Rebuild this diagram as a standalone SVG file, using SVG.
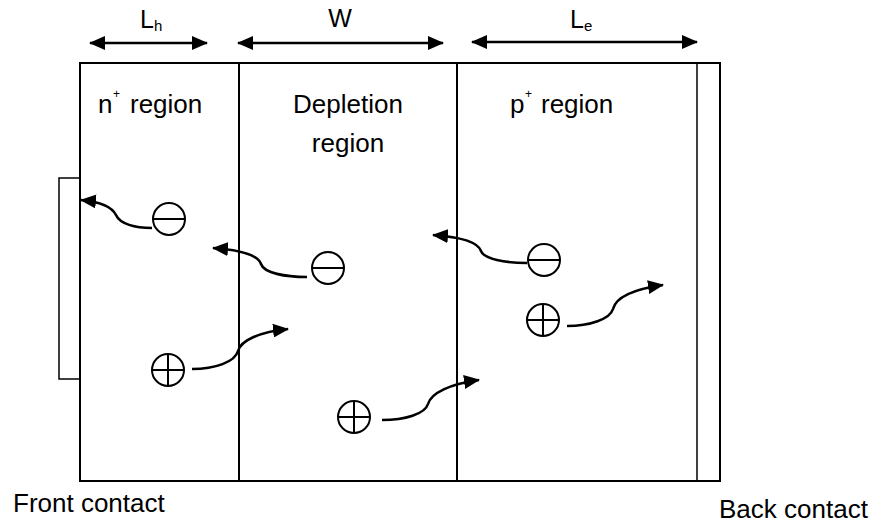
<svg xmlns="http://www.w3.org/2000/svg" width="872" height="523" viewBox="0 0 872 523">
  <style>
    .lbl { font-family: "Liberation Sans", Arial, sans-serif; font-size: 26px; fill: #000; }
    .sup { font-family: "Liberation Sans", Arial, sans-serif; font-size: 12px; fill: #000; }
    .dim { font-family: "Liberation Sans", Arial, sans-serif; font-size: 25px; fill: #000; }
    .frame { fill: #fff; stroke: #000; stroke-width: 2; }
    .wall { stroke: #000; stroke-width: 2; fill: none; }
    .thin { stroke: #000; stroke-width: 1.5; fill: none; }
    .charge { fill: #fff; stroke: #000; stroke-width: 2; }
    .flow { fill: none; stroke: #000; stroke-width: 2.6; marker-end: url(#head); }
    .span { fill: none; stroke: #000; stroke-width: 2.4; marker-start: url(#dhead); marker-end: url(#dhead); }
  </style>
  <defs>
    <marker id="head" markerUnits="userSpaceOnUse" markerWidth="16" markerHeight="14" refX="15" refY="7" orient="auto">
      <path d="M0,0 L16,7 L0,14 Z" fill="#000"/>
    </marker>
    <marker id="dhead" markerUnits="userSpaceOnUse" markerWidth="16" markerHeight="14" refX="15" refY="7" orient="auto-start-reverse">
      <path d="M0,0 L16,7 L0,14 Z" fill="#000"/>
    </marker>
  </defs>

  <rect width="872" height="523" fill="#fff"/>

  <!-- device body -->
  <g id="device">
    <rect class="frame" x="80" y="63" width="640" height="418"/>
  </g>
  <g id="n-region">
    <text class="lbl" x="98" y="113">n</text>
    <text class="sup" x="113" y="98">+</text>
    <text class="lbl" x="130" y="113">region</text>
  </g>
  <g id="depletion-region">
    <line class="wall" x1="239" y1="63" x2="239" y2="481"/>
    <text class="lbl" x="348" y="113" text-anchor="middle">Depletion</text>
    <text class="lbl" x="348" y="152" text-anchor="middle">region</text>
  </g>
  <g id="p-region">
    <line class="wall" x1="457" y1="63" x2="457" y2="481"/>
    <text class="lbl" x="510" y="113">p</text>
    <text class="sup" x="525" y="98">+</text>
    <text class="lbl" x="541" y="113">region</text>
  </g>
  <g id="back-contact">
    <line class="thin" x1="697" y1="63" x2="697" y2="481"/>
    <text class="lbl" x="719" y="518">Back contact</text>
  </g>
  <g id="front-contact">
    <rect class="thin" x="59" y="178" width="21" height="201" fill="#fff"/>
    <text class="lbl" x="13" y="512">Front contact</text>
  </g>

  <!-- width markers -->
  <g id="dim-Lh">
    <line class="span" x1="90" y1="43" x2="207" y2="43"/>
    <text class="dim" x="140" y="28">L<tspan font-size="15" dy="3">h</tspan></text>
  </g>
  <g id="dim-W">
    <line class="span" x1="238" y1="43" x2="443" y2="43"/>
    <text class="dim" x="340" y="27" text-anchor="middle">W</text>
  </g>
  <g id="dim-Le">
    <line class="span" x1="472" y1="42" x2="697" y2="42"/>
    <text class="dim" x="570" y="28">L<tspan font-size="15" dy="3">e</tspan></text>
  </g>

  <!-- carriers -->
  <g id="electron-1">
    <circle class="charge" cx="169" cy="219" r="16"/>
    <line class="wall" x1="153" y1="219" x2="185" y2="219"/>
  </g>
  <g id="electron-2">
    <circle class="charge" cx="328" cy="268" r="16"/>
    <line class="wall" x1="312" y1="268" x2="344" y2="268"/>
  </g>
  <g id="electron-3">
    <circle class="charge" cx="544" cy="260" r="16"/>
    <line class="wall" x1="528" y1="260" x2="560" y2="260"/>
  </g>
  <g id="hole-1">
    <circle class="charge" cx="168" cy="370" r="16"/>
    <line class="wall" x1="152" y1="370" x2="184" y2="370"/>
    <line class="wall" x1="168" y1="354" x2="168" y2="386"/>
  </g>
  <g id="hole-2">
    <circle class="charge" cx="543" cy="320" r="16"/>
    <line class="wall" x1="527" y1="320" x2="559" y2="320"/>
    <line class="wall" x1="543" y1="304" x2="543" y2="336"/>
  </g>
  <g id="hole-3">
    <circle class="charge" cx="354" cy="417" r="16"/>
    <line class="wall" x1="338" y1="417" x2="370" y2="417"/>
    <line class="wall" x1="354" y1="401" x2="354" y2="433"/>
  </g>

  <!-- carrier paths -->
  <g id="connectors">
    <path class="flow" d="M152,228 C135,228 120,224 116,215 C112,207 102,202 81,200"/>
    <path class="flow" d="M307,277 C285,277 264,273 261,264 C258,255 240,250 213,248"/>
    <path class="flow" d="M527,263 C505,263 484,259 481,251 C478,242 460,237 433,235"/>
    <path class="flow" d="M192,369 C215,369 235,362 238,351 C241,340 260,332 288,329"/>
    <path class="flow" d="M567,326 C590,326 610,319 613,309 C616,297 635,289 663,285"/>
    <path class="flow" d="M382,420 C405,420 425,414 428,404 C431,393 450,384 479,380"/>
  </g>
</svg>
